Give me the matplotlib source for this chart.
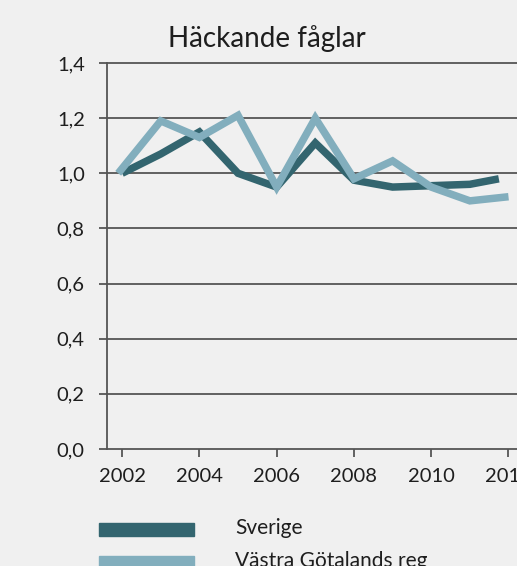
import matplotlib
matplotlib.use('Agg')
import matplotlib.pyplot as plt
from matplotlib.patches import Rectangle

# data
title = 'Häckande fåglar'
sverige_x = [2002, 2003, 2004, 2005, 2006, 2007, 2008, 2009, 2010, 2011, 2011.75]
sverige = [1.00, 1.07, 1.15, 1.00, 0.95, 1.11, 0.975, 0.95, 0.955, 0.96, 0.98]
vg_x = [2001.9, 2003, 2004, 2005, 2006, 2007, 2008, 2009, 2010, 2011, 2012]
vg = [1.00, 1.19, 1.13, 1.21, 0.95, 1.20, 0.98, 1.045, 0.95, 0.90, 0.915]
labels = ['Sverige', 'Västra Götalands reg']
yticks = [0.0, 0.2, 0.4, 0.6, 0.8, 1.0, 1.2, 1.4]
xticks = [2002, 2004, 2006, 2008, 2010, 2012]

bg = '#f0f0f0'
dark = '#33656f'
light = '#82aebd'
grid = '#555555'
txt = '#1e1e1e'

plt.rcParams['font.family'] = ['Lato', 'DejaVu Sans']

fig = plt.figure(figsize=(5.17, 5.66), dpi=100, facecolor=bg)
ax = fig.add_axes([0.207, 0.2067, 0.793, 0.682])
ax.set_facecolor(bg)

ax.plot(sverige_x, sverige, color=dark, lw=5.4, solid_joinstyle='miter', solid_capstyle='butt', zorder=3)
ax.plot(vg_x, vg, color=light, lw=5.4, solid_joinstyle='miter', solid_capstyle='butt', zorder=4)

ax.set_xlim(2001.61, 2012.22)
ax.set_ylim(0, 1.4)
ax.set_yticks(yticks)
ax.set_yticklabels([('%.1f' % v).replace('.', ',') for v in yticks])
ax.set_xticks(xticks)
ax.set_xticklabels([str(v) for v in xticks])

for v in yticks:
    ax.axhline(v, color=grid, lw=1.3, zorder=1, clip_on=False)
ax.tick_params(axis='y', length=6, width=1.3, color=grid, pad=10, labelsize=14.5, labelcolor=txt)
ax.tick_params(axis='x', length=6, width=1.3, color=grid, pad=8, labelsize=14.5, labelcolor=txt)
for s in ['top', 'right', 'bottom']:
    ax.spines[s].set_visible(False)
ax.spines['left'].set_color(grid)
ax.spines['left'].set_linewidth(1.3)

fig.text(267 / 517, 1 - 39 / 566, title, ha='center', va='center', fontsize=20, color=txt)

# legend
for i, (lab, col) in enumerate(zip(labels, [dark, light])):
    y0 = 1 - (523 + i * 33) / 566
    fig.patches.append(Rectangle((99 / 517, y0 - 13 / 566), 95 / 517, 13 / 566,
                                 transform=fig.transFigure, color=col))
    fig.text(235 / 517, y0 - 5 / 566, lab, ha='left', va='center', fontsize=15, color=txt)

fig.savefig('out.png', dpi=100, facecolor=bg)
